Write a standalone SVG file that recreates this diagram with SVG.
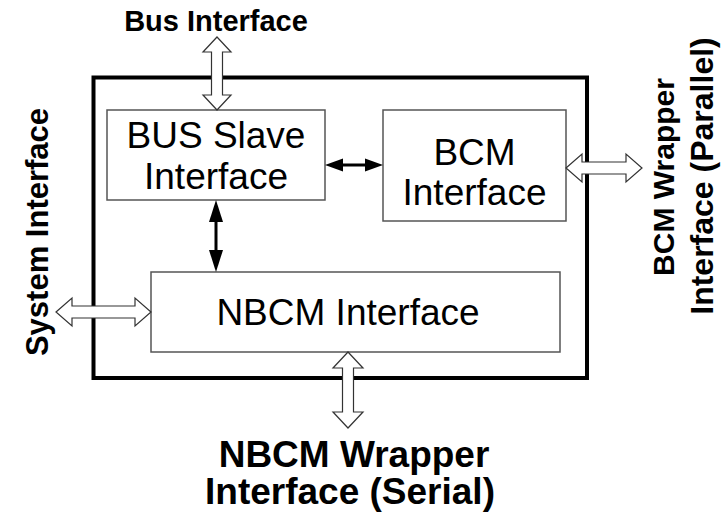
<svg xmlns="http://www.w3.org/2000/svg" width="722" height="513" viewBox="0 0 722 513">
<style>
.box{fill:#fff;stroke:#555;stroke-width:1.5}
.outer{fill:#fff;stroke:#000;stroke-width:4}
.reg{font-family:"Liberation Sans",Arial,sans-serif;font-size:37px;fill:#000;text-anchor:middle}
.bold{font-family:"Liberation Sans",Arial,sans-serif;font-weight:bold;fill:#000;text-anchor:middle}
.hollow{fill:#fff;stroke:#333;stroke-width:1.2;stroke-linejoin:miter}
.solid{stroke:#000;stroke-width:3}
.head{fill:#000}
</style>
<rect width="722" height="513" fill="#fff"/>
<g id="system">
<rect class="outer" x="93.5" y="77.5" width="493.5" height="300.5"/>
</g>
<g id="bus-slave">
<rect class="box" x="107" y="110" width="218" height="90"/>
<text class="reg" x="216" y="148">BUS Slave</text>
<text class="reg" x="216" y="189">Interface</text>
</g>
<g id="bcm">
<rect class="box" x="383" y="110" width="183" height="111"/>
<text class="reg" x="474.5" y="165">BCM</text>
<text class="reg" x="474.5" y="205">Interface</text>
</g>
<g id="nbcm">
<rect class="box" x="151" y="272" width="409" height="80"/>
<text class="reg" x="348" y="325">NBCM Interface</text>
</g>
<g id="labels">
<text class="bold" font-size="29" x="216" y="31">Bus Interface</text>
<text class="bold" font-size="31" transform="translate(48,232) rotate(-90)">System Interface</text>
<text class="bold" font-size="30" transform="translate(674,177) rotate(-90)">BCM Wrapper</text>
<text class="bold" font-size="32" transform="translate(713,176) rotate(-90)">Interface (Parallel)</text>
<text class="bold" font-size="37" x="354" y="467">NBCM Wrapper</text>
<text class="bold" font-size="37" x="350" y="504">Interface (Serial)</text>
</g>
<g id="connectors">
<polygon class="hollow" points="217,37 231,52 222.5,52 222.5,95 231,95 217,110 203,95 211.5,95 211.5,52 203,52"/>
<polygon class="hollow" points="56,312 72,298 72,306 135,306 135,298 151,312 135,326 135,318 72,318 72,326"/>
<polygon class="hollow" points="566,168 582,154 582,162 626,162 626,154 642,168 626,182 626,174 582,174 582,182"/>
<polygon class="hollow" points="348,352 363,368 353.5,368 353.5,412 363,412 348,428 333,412 342.5,412 342.5,368 333,368"/>
<line class="solid" x1="340" y1="165" x2="368" y2="165"/>
<polygon class="head" points="325,165 343,158.5 343,171.5"/>
<polygon class="head" points="383,165 365,158.5 365,171.5"/>
<line class="solid" x1="216" y1="218" x2="216" y2="254"/>
<polygon class="head" points="216,200 209,222 223,222"/>
<polygon class="head" points="216,272 209,250 223,250"/>
</g>
</svg>
